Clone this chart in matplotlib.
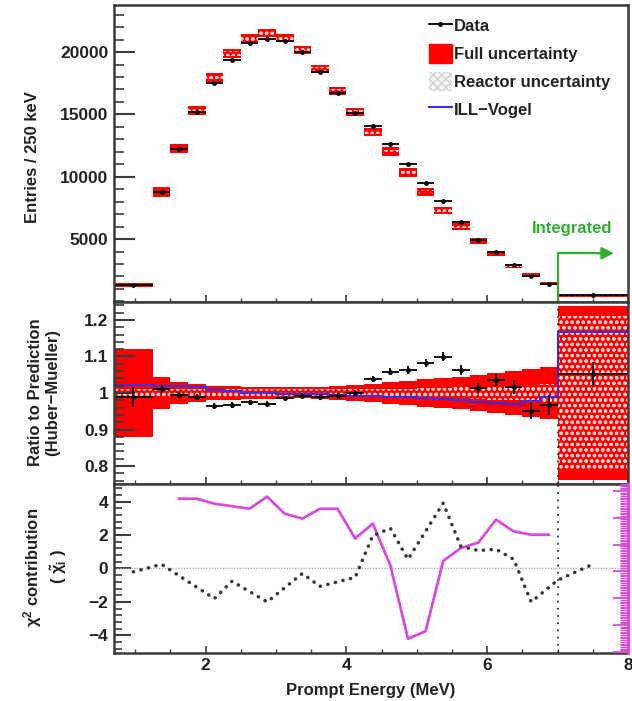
import matplotlib
matplotlib.use("Agg")
import matplotlib.pyplot as plt
import numpy as np
from matplotlib.lines import Line2D
from matplotlib.patches import Patch
from matplotlib.ticker import MultipleLocator, AutoMinorLocator

plt.rcParams['font.family'] = ['Liberation Sans', 'DejaVu Sans']
plt.rcParams['font.weight'] = 'bold'
plt.rcParams['mathtext.default'] = 'regular'
plt.rcParams['hatch.linewidth'] = 0.9

# ---- data ----
bin_edges = np.concatenate([[0.7], np.arange(1.25, 7.01, 0.25), [8.0]])

data_counts = [1290, 8758, 12210, 15180, 17510, 19360, 20720, 21040, 20880, 20000,
               18400, 16710, 15100, 14060, 12610, 11000, 9480, 8040, 6350, 4900,
               3940, 2900, 2010, 1370, 500]
pred_counts = [1300, 8800, 12250, 15340, 17990, 19920, 21120, 21530, 21120, 20160,
               18630, 16870, 15180, 13580, 12010, 10360, 8800, 7310, 5990, 4850,
               3860, 2850, 2100, 1420, 480]

ratio_data = [0.989, 1.011, 0.995, 0.989, 0.964, 0.967, 0.975, 0.970, 0.986, 0.992,
              0.989, 0.992, 1.000, 1.038, 1.058, 1.063, 1.082, 1.099, 1.063, 1.014,
              1.036, 1.016, 0.951, 0.967, 1.052]
ill_vogel = [1.022, 1.020, 1.019, 1.017, 1.008, 1.005, 1.000, 0.999, 0.998, 0.997,
             0.996, 0.994, 0.993, 0.992, 0.990, 0.988, 0.986, 0.984, 0.980, 0.976,
             0.973, 0.971, 0.978, 0.990, 1.167]
full_unc = [0.12, 0.045, 0.03, 0.024, 0.02, 0.018, 0.017, 0.016, 0.015, 0.015,
            0.016, 0.018, 0.021, 0.025, 0.029, 0.033, 0.037, 0.041, 0.045, 0.05,
            0.055, 0.06, 0.066, 0.072, 0.238]
reactor_unc = [0.01, 0.01, 0.01, 0.01, 0.01, 0.01, 0.01, 0.01, 0.01, 0.01,
               0.01, 0.01, 0.01, 0.011, 0.012, 0.012, 0.013, 0.014, 0.015, 0.017,
               0.018, 0.02, 0.022, 0.024, 0.21]
integrated_counts = 1100

chi_ill_x = [1.625, 1.875, 2.125, 2.375, 2.625, 2.875, 3.125, 3.375, 3.625, 3.875, 4.125,
             4.375, 4.625, 4.875, 5.125, 5.375, 5.625, 5.875, 6.125, 6.375, 6.625, 6.875]
chi_ill = [4.17, 4.17, 3.87, 3.72, 3.57, 4.29, 3.27, 2.98, 3.57, 3.57, 1.79,
           2.68, 0.18, -4.2, -3.75, 0.45, 1.22, 1.55, 2.92, 2.22, 2.02, 2.02]
chi_hm_x = [0.975, 1.375, 2.125, 2.375, 2.875, 3.375, 3.625, 4.125, 4.375, 4.625,
            4.875, 5.375, 5.625, 5.875, 6.125, 6.375, 6.625, 7.0, 7.5]
chi_hm = [-0.2, 0.25, -1.8, -0.76, -2.0, -0.3, -1.07, -0.53, 1.96, 2.4,
          0.55, 3.9, 1.33, 1.07, 1.15, 0.55, -2.0, -0.7, 0.25]

centers = 0.5 * (bin_edges[:-1] + bin_edges[1:])
widths = np.diff(bin_edges)
data_counts = np.array(data_counts, float)
pred_counts = np.array(pred_counts, float)
ratio_data = np.array(ratio_data)
full_unc = np.array(full_unc)
reactor_unc = np.array(reactor_unc)
stat_n = data_counts.copy()
stat_n[-1] = integrated_counts

RED = '#ff0000'
HATCH = '#ffcfcf'
BLUE = '#3a2fe6'
MAG = '#d94bd9'
GREEN = '#2fae2f'
FRAME = '#3a3a3a'

fig = plt.figure(figsize=(6.32, 7.01), dpi=100)
L, W = 0.1804, 0.8133
ax1 = fig.add_axes([L, 0.5692, W, 0.4237])
ax2 = fig.add_axes([L, 0.3096, W, 0.2596])
ax3 = fig.add_axes([L, 0.0685, W, 0.2411])

for ax in (ax1, ax2, ax3):
    ax.set_xlim(0.7, 8.0)
    for s in ax.spines.values():
        s.set_color(FRAME)
        s.set_linewidth(1.8)
    ax.xaxis.set_major_locator(MultipleLocator(2))
    ax.xaxis.set_minor_locator(MultipleLocator(0.5))
    ax.tick_params(which='both', direction='in', top=False, right=False,
                   color=FRAME, labelsize=12.5, labelcolor='#222222')
    ax.tick_params(axis='x', which='major', length=5, width=1.2)
    ax.tick_params(axis='x', which='minor', length=3, width=1.0)
    ax.tick_params(axis='y', which='major', length=15, width=1.5, pad=4)
    ax.tick_params(axis='y', which='minor', length=7, width=1.2)

# ---- top panel: spectrum ----
ax1.bar(centers, 2 * pred_counts * full_unc, bottom=pred_counts * (1 - full_unc),
        width=widths, color=RED, linewidth=0)
ax1.bar(centers, 2 * pred_counts * reactor_unc, bottom=pred_counts * (1 - reactor_unc),
        width=widths, facecolor='none', edgecolor=HATCH, hatch='ooo', linewidth=0)
ax1.errorbar(centers, data_counts, xerr=widths / 2, yerr=np.sqrt(data_counts),
             fmt='o', ms=2.5, color='k', elinewidth=1.3, capsize=0)
ax1.set_ylim(-50, 23780)
ax1.yaxis.set_major_locator(MultipleLocator(5000))
ax1.yaxis.set_minor_locator(MultipleLocator(1000))
ax1.set_yticks([5000, 10000, 15000, 20000])
ax1.tick_params(labelbottom=False)

# integrated arrow
ax1.plot([7.0, 7.0, 7.62], [0, 3860, 3860], color=GREEN, lw=1.6)
ax1.annotate('', xy=(7.8, 3860), xytext=(7.55, 3860),
             arrowprops=dict(arrowstyle='-|>', color=GREEN, lw=1.6,
                             mutation_scale=18, shrinkA=0, shrinkB=0))
ax1.text(7.2, 5870, 'Integrated', color=GREEN, fontsize=12, fontweight='bold',
         ha='center', va='center')

handles = [Line2D([], [], color='k', marker='o', ms=2.5, lw=1.3),
           Patch(facecolor=RED, edgecolor=RED),
           Patch(facecolor='#f2f2f2', edgecolor='#cfcfcf', hatch='xxxx', linewidth=0),
           Line2D([], [], color=BLUE, lw=1.5)]
labels = ['Data', 'Full uncertainty', 'Reactor uncertainty', 'ILL\u2212Vogel']
leg = ax1.legend(handles, labels, loc='upper left', bbox_to_anchor=(0.6, 0.985),
                 frameon=False, fontsize=12, handlelength=1.35, handleheight=1.35,
                 handletextpad=0.15, labelspacing=0.55, borderaxespad=0)
for t in leg.get_texts():
    t.set_color('#222222')

# ---- middle panel: ratio ----
ax2.bar(centers, 2 * full_unc, bottom=1 - full_unc, width=widths, color=RED, linewidth=0)
ax2.bar(centers, 2 * reactor_unc, bottom=1 - reactor_unc, width=widths,
        facecolor='none', edgecolor=HATCH, hatch='ooo', linewidth=0)
ax2.stairs(ill_vogel, bin_edges, color=BLUE, lw=1.5, baseline=None)
ax2.errorbar(centers, ratio_data, xerr=widths / 2, yerr=ratio_data / np.sqrt(stat_n),
             fmt='o', ms=2.5, color='k', elinewidth=1.3, capsize=0)
ax2.axvline(7.0, color='#333333', lw=1.3, ls=(0, (1, 3)))
ax2.set_ylim(0.751, 1.249)
ax2.yaxis.set_major_locator(MultipleLocator(0.1))
ax2.yaxis.set_minor_locator(MultipleLocator(0.02))
ax2.set_yticks([0.8, 0.9, 1.0, 1.1, 1.2])
ax2.set_yticklabels(['0.8', '0.9', '1', '1.1', '1.2'])
ax2.tick_params(labelbottom=False)

# ---- bottom panel: chi2 ----
ax3.axhline(0, color='#b0b0b0', lw=1.0, ls=(0, (1, 1)))
ax3.axvline(7.0, color='#333333', lw=1.3, ls=(0, (1, 3)))
ax3.plot(chi_ill_x, chi_ill, color=MAG, lw=2)
ax3.plot(chi_hm_x, chi_hm, color='#3a3a3a', lw=2.6, ls=(0, (0.05, 2.1)),
         dash_capstyle='round')
ax3.set_ylim(-5.05, 5.05)
ax3.yaxis.set_major_locator(MultipleLocator(2))
ax3.yaxis.set_minor_locator(MultipleLocator(0.4))
ax3.set_yticks([-4, -2, 0, 2, 4])
ax3.set_yticklabels(['\u22124', '\u22122', '0', '2', '4'])
ax3.tick_params(axis='y', which='major', length=12)
ax3.tick_params(axis='y', which='minor', length=6)
ax3.set_xticks([2, 4, 6, 8])

tw = ax3.twinx()
tw.set_ylim(-0.04, 6.26)
tw.yaxis.set_major_locator(MultipleLocator(1))
tw.yaxis.set_minor_locator(AutoMinorLocator(16))
tw.tick_params(axis='y', which='both', direction='in', colors=MAG, labelright=False)
tw.tick_params(axis='y', which='major', length=11, width=1.3)
tw.tick_params(axis='y', which='minor', length=5.5, width=1.0)
for k, s in tw.spines.items():
    s.set_visible(k == 'right')
tw.spines['right'].set_color(MAG)
tw.spines['right'].set_linewidth(2.2)

# ---- labels ----
fig.text(33 / 632, 1 - 157 / 701, 'Entries / 250 keV', rotation=90, ha='center',
         va='center', fontsize=12, color='#222222')
fig.text(44 / 632, 1 - 392 / 701, 'Ratio to Prediction\n(Huber\u2212Mueller)', rotation=90,
         ha='center', va='center', fontsize=12, color='#222222', linespacing=1.25,
         multialignment='center')
fig.text(45 / 632, 1 - 567 / 701, '$\\chi^2$ contribution\n( $\\tilde{\\chi}_i$ )',
         rotation=90, ha='center', va='center', fontsize=12, color='#222222',
         linespacing=1.25, multialignment='center')
fig.text(371 / 632, 1 - 690 / 701, 'Prompt Energy (MeV)', ha='center', va='center',
         fontsize=12, color='#222222')

fig.savefig('out.png', dpi=100)
